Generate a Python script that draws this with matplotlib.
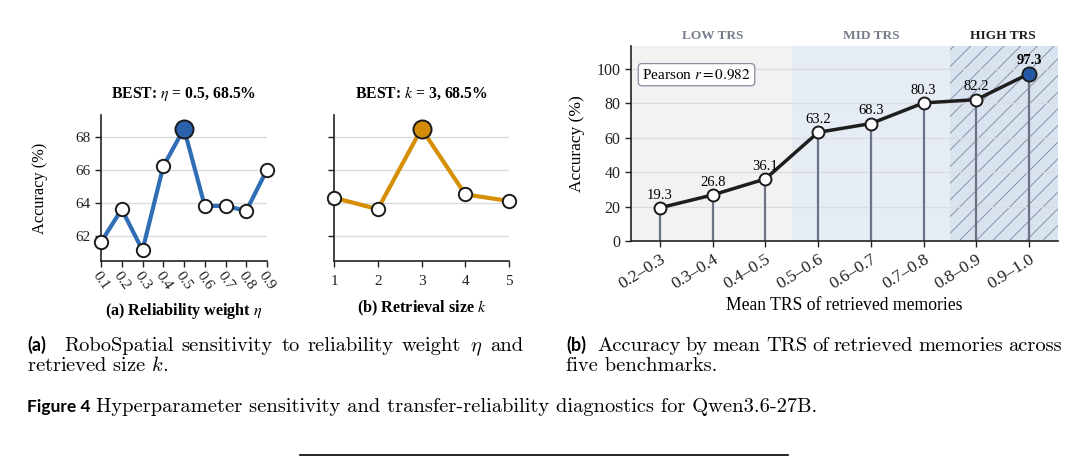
import matplotlib
matplotlib.use("Agg")
import matplotlib.pyplot as plt
from matplotlib.lines import Line2D
import matplotlib.transforms as mtransforms
from matplotlib import font_manager

# data
eta_values = [0.1, 0.2, 0.3, 0.4, 0.5, 0.6, 0.7, 0.8, 0.9]
eta_acc = [61.6, 63.6, 61.1, 66.2, 68.5, 63.8, 63.8, 63.5, 66.0]
k_values = [1, 2, 3, 4, 5]
k_acc = [64.3, 63.6, 68.5, 64.5, 64.1]

trs_bins = ["0.2–0.3", "0.3–0.4", "0.4–0.5", "0.5–0.6",
            "0.6–0.7", "0.7–0.8", "0.8–0.9", "0.9–1.0"]
trs_acc = [19.3, 26.8, 36.1, 63.2, 68.3, 80.3, 82.2, 97.3]
regions = ["LOW TRS", "MID TRS", "HIGH TRS"]
region_edges = [2.5, 5.5]
pearson_r = 0.982

cap_a = [r"RoboSpatial sensitivity to reliability weight $\eta$ and",
         r"retrieved size $k$."]
cap_b = ["Accuracy by mean TRS of retrieved memories across",
         "five benchmarks."]
cap_fig = "Hyperparameter sensitivity and transfer-reliability diagnostics for Qwen3.6-27B."

plt.rcParams["font.family"] = "Liberation Serif"
plt.rcParams["mathtext.fontset"] = "stix"
plt.rcParams["hatch.linewidth"] = 0.6

BLUE = "#2f6db4"
BLUE_DARK = "#2a62ab"
ORANGE = "#d68f04"
GRID = "#d6d9df"
STEM = "#6b7385"
INK = "#1e1e1e"

# narrow sans for the caption labels if there is one
installed = {f.name for f in font_manager.fontManager.ttflist}
label_font = "Liberation Sans Narrow" if "Liberation Sans Narrow" in installed else "Lato"

fig = plt.figure(figsize=(10.88, 4.66), dpi=100)
W, H = 1088, 466
renderer = fig.canvas.get_renderer()

def px_axes(l, t, r, b):
    return fig.add_axes([l / W, 1 - b / H, (r - l) / W, (b - t) / H])

def style_axes(ax, size):
    for s in ["top", "right"]:
        ax.spines[s].set_visible(False)
    for s in ["left", "bottom"]:
        ax.spines[s].set_linewidth(1.2)
        ax.spines[s].set_color("#222222")
    ax.tick_params(direction="out", length=4, width=1.0, colors="#222222",
                   labelsize=size)
    ax.yaxis.grid(True, color=GRID, lw=0.9)
    ax.set_axisbelow(True)

# ---- (a) eta sweep
ax1 = px_axes(101, 115, 267, 261)
style_axes(ax1, 11)
best = eta_acc.index(max(eta_acc))
ax1.plot(eta_values, eta_acc, color=BLUE, lw=3.0, zorder=2, clip_on=False)
ax1.plot(eta_values, eta_acc, "o", ms=9.6, mfc="white", mec="#1a1a1a",
         mew=1.4, zorder=3, clip_on=False)
ax1.plot(eta_values[best], eta_acc[best], "o", ms=13, mfc=BLUE_DARK,
         mec="#1a1a1a", mew=1.4, zorder=4, clip_on=False)
ax1.set_xlim(0.1, 0.9)
ax1.set_ylim(60.45, 69.33)
ax1.set_yticks([62, 64, 66, 68])
ax1.set_xticks(eta_values)
ax1.set_xticklabels([f"{v:.1f}" for v in eta_values], rotation=-55,
                    ha="left", rotation_mode="anchor")
ax1.tick_params(axis="x", pad=2)
ax1.set_ylabel("Accuracy (%)", fontsize=11.8)
ax1.yaxis.set_label_coords(-0.32, 0.5)
ax1.set_title(r"BEST: $\eta$ = 0.5, 68.5%", fontsize=11.3, fontweight="bold",
              pad=12)
ax1.set_xlabel(r"(a) Reliability weight $\eta$", fontsize=11.6,
               fontweight="bold", labelpad=6)

# ---- (b) k sweep
ax2 = px_axes(334, 115, 509, 261)
style_axes(ax2, 11)
best_k = k_acc.index(max(k_acc))
ax2.plot(k_values, k_acc, color=ORANGE, lw=3.0, zorder=2, clip_on=False)
ax2.plot(k_values, k_acc, "o", ms=9.6, mfc="white", mec="#1a1a1a",
         mew=1.4, zorder=3, clip_on=False)
ax2.plot(k_values[best_k], k_acc[best_k], "o", ms=13, mfc="#d38b0a",
         mec="#1a1a1a", mew=1.4, zorder=4, clip_on=False)
ax2.set_xlim(1, 5)
ax2.set_ylim(60.45, 69.33)
ax2.set_yticks([62, 64, 66, 68])
ax2.set_yticklabels([])
ax2.set_xticks(k_values)
ax2.tick_params(axis="x", pad=6)
ax2.set_title(r"BEST: $k$ = 3, 68.5%", fontsize=11.3, fontweight="bold",
              pad=12)
ax2.set_xlabel(r"(b) Retrieval size $k$", fontsize=11.6, fontweight="bold",
               labelpad=8)

# ---- right: accuracy by TRS bin
ax3 = px_axes(631, 46, 1058, 241)
style_axes(ax3, 11.5)
xs = list(range(len(trs_acc)))
x_lo, x_hi = -0.55, 7.55
ax3.set_xlim(x_lo, x_hi)
ax3.set_ylim(0, 113.4)
ax3.axvspan(x_lo, region_edges[0], color="#f2f2f2", lw=0, zorder=0)
ax3.axvspan(region_edges[0], region_edges[1], color="#e6ecf4", lw=0, zorder=0)
ax3.axvspan(region_edges[1], x_hi, facecolor="#d9e3ef", edgecolor="#7d879a",
            hatch="//", lw=0, zorder=0)
ax3.yaxis.grid(True, color="#d9dce2", lw=0.9)
ax3.vlines(xs, 0, trs_acc, color=STEM, lw=1.6, zorder=1)
ax3.plot(xs, trs_acc, color=INK, lw=2.5, zorder=2)
ax3.plot(xs[:-1], trs_acc[:-1], "o", ms=8.6, mfc="white", mec="#1a1a1a",
         mew=1.4, zorder=3)
ax3.plot(xs[-1], trs_acc[-1], "o", ms=10.2, mfc="#2559a3", mec="#1a1a1a",
         mew=1.3, zorder=4)
for i, v in enumerate(trs_acc):
    ax3.annotate(f"{v:.1f}", (i, v), xytext=(0, 4.5), textcoords="offset points",
                 ha="center", va="bottom", fontsize=10.5,
                 fontweight="bold" if i == len(trs_acc) - 1 else "normal",
                 zorder=5)
ax3.set_yticks([0, 20, 40, 60, 80, 100])
ax3.set_xticks(xs)
ax3.set_xticklabels(trs_bins, rotation=32, ha="right", rotation_mode="anchor",
                    fontsize=12.5)
ax3.set_ylabel("Accuracy (%)", fontsize=12.5)
ax3.yaxis.set_label_coords(-0.108, 0.5)
ax3.set_xlabel("Mean TRS of retrieved memories", fontsize=12.7, labelpad=3)
trans = mtransforms.blended_transform_factory(ax3.transData, ax3.transAxes)
region_mid = [(x_lo + 0.55 + region_edges[0] - 0.5) / 2,
              sum(region_edges) / 2, (region_edges[1] + x_hi - 0.05) / 2]
for name, xc, col in zip(regions, region_mid, ["#767c8c", "#767c8c", INK]):
    ax3.text(xc, 1.052, name, transform=trans, ha="center", va="center",
             fontsize=9.6, fontweight="bold", color=col)
ax3.text(0.026, 0.853, rf"Pearson $r = {pearson_r}$", transform=ax3.transAxes,
         ha="left", va="center", fontsize=11, zorder=6,
         bbox=dict(boxstyle="round,pad=0.25", fc="white", ec="#7a8294",
                   lw=0.9, alpha=0.9))

# ---- captions
CAP = dict(family="cmr10", math_fontfamily="cm", va="baseline")
SANS = dict(family=label_font, fontweight="bold", va="baseline")

def text_width(s, size, **kw):
    t = fig.text(0, 0, s, fontsize=size, **kw)
    w = t.get_window_extent(renderer).width
    t.remove()
    return w

def fit_size(s, target, **kw):
    return 10 * target / text_width(s, 10, **kw)

def justify(s, x0, x1, y, size, **kw):
    words = s.split(" ")
    widths = [text_width(w, size, **kw) for w in words]
    gap = (x1 - x0 - sum(widths)) / (len(words) - 1)
    x = x0
    for w, wd in zip(words, widths):
        fig.text(x / W, 1 - y / H, w, fontsize=size, **kw)
        x += wd + gap

fig_lab_size = 12.5
fig_lab_end = 27 + text_width("Figure 4", fig_lab_size, **SANS)
cap_x0 = max(78, fig_lab_end + 6)
cap_size = fit_size(cap_fig, 817 - cap_x0, **CAP)

fig.text(27 / W, 1 - 351 / H, "(a)", fontsize=13, **SANS)
justify(cap_a[0], 64, 523, 351, cap_size, **CAP)
fig.text(27 / W, 1 - 371 / H, cap_a[1], fontsize=cap_size, **CAP)
fig.text(566 / W, 1 - 351 / H, "(b)", fontsize=13, **SANS)
justify(cap_b[0], 597, 1062, 351, cap_size, **CAP)
fig.text(566 / W, 1 - 371 / H, cap_b[1], fontsize=cap_size, **CAP)
fig.text(27 / W, 1 - 412 / H, "Figure 4", fontsize=fig_lab_size, **SANS)
fig.text(cap_x0 / W, 1 - 412 / H, cap_fig, fontsize=cap_size, **CAP)
fig.add_artist(Line2D([300 / W, 788 / W], [1 - 455 / H, 1 - 455 / H],
                      color="black", lw=1.2))

fig.savefig("out.png", dpi=100)
